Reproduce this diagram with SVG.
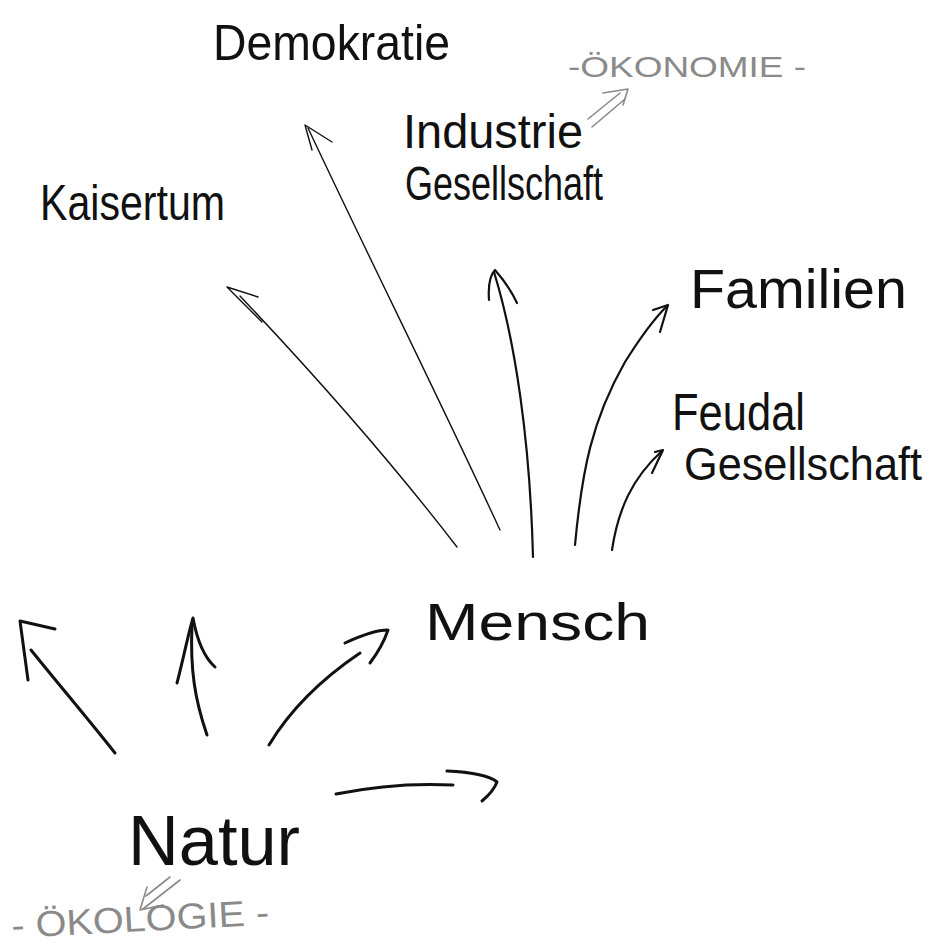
<svg xmlns="http://www.w3.org/2000/svg" width="936" height="950" viewBox="0 0 936 950">
<style>
.t{font-family:"Liberation Sans",Arial,sans-serif;fill:#111}
.g{font-family:"Liberation Sans",Arial,sans-serif;fill:#8a8a8a}
.c{fill:none;stroke:#111;stroke-linecap:round;stroke-linejoin:round}
.thin{stroke-width:1.4}
.mid{stroke-width:2.2}
.bold{stroke-width:3}
.gr{fill:none;stroke:#8a8a8a;stroke-width:1.6;stroke-linecap:round;stroke-linejoin:round}
</style>
<rect width="936" height="950" fill="#fff"/>
<g id="connectors">
  <path class="c thin" d="M457,547 C390,460 310,370 240,296"/>
  <path class="c thin" d="M258,297 L227,287 L262,322"/>
  <path class="c thin" d="M500,530 C440,400 370,260 308,128"/>
  <path class="c thin" d="M332,142 L305,125 L312,150"/>
  <path class="c mid" d="M533,557 C530,440 515,340 494,272"/>
  <path class="c mid" d="M489,300 C488,285 490,275 495,270 C502,278 512,292 517,303"/>
  <path class="c mid" d="M575,545 C582,470 592,420 625,362 C640,338 655,318 667,306"/>
  <path class="c mid" d="M653,310 L668,305 L660,332"/>
  <path class="c mid" d="M612,550 C618,510 632,478 662,451"/>
  <path class="c mid" d="M655,452 L663,450 L652,473"/>
  <path class="c bold" d="M115,753 C85,715 55,680 31,650"/>
  <path class="c bold" d="M28,680 L20,621 L55,629"/>
  <path class="c bold" d="M207,735 C195,700 190,670 192,625"/>
  <path class="c bold" d="M177,683 C183,660 188,635 193,618 C197,640 205,658 215,667"/>
  <path class="c bold" d="M269,745 C290,710 320,680 360,653"/>
  <path class="c bold" d="M345,643 C360,636 375,630 388,630 C383,645 376,655 370,663"/>
  <path class="c bold" d="M336,794 C375,786 415,783 453,785"/>
  <path class="c bold" d="M447,771 C470,772 490,776 497,782 C494,790 488,796 482,801"/>
  <path class="gr" d="M588,119 L620,93 M592,127 L625,99"/>
  <path class="gr" d="M603,93 L628,89 L623,105"/>
  <path class="gr" d="M180,880 L143,909 M170,877 L146,896"/>
  <path class="gr" d="M147,887 L140,910 L163,905"/>
</g>
<g id="n-demokratie"><text class="t" x="213" y="60" font-size="50" textLength="237" lengthAdjust="spacingAndGlyphs">Demokratie</text></g>
<g id="n-kaisertum"><text class="t" x="40" y="220" font-size="50" textLength="185" lengthAdjust="spacingAndGlyphs">Kaisertum</text></g>
<g id="n-industrie"><text class="t" x="403" y="148" font-size="48" textLength="180" lengthAdjust="spacingAndGlyphs">Industrie</text><text class="t" x="405" y="200" font-size="48" textLength="198" lengthAdjust="spacingAndGlyphs">Gesellschaft</text></g>
<g id="n-oekonomie"><text class="g" x="568" y="77" font-size="30" textLength="238" lengthAdjust="spacingAndGlyphs">-ÖKONOMIE -</text></g>
<g id="n-familien"><text class="t" x="690" y="308" font-size="56" textLength="217" lengthAdjust="spacingAndGlyphs">Familien</text></g>
<g id="n-feudal"><text class="t" x="672" y="430" font-size="52" textLength="133" lengthAdjust="spacingAndGlyphs">Feudal</text><text class="t" x="684" y="480" font-size="46" textLength="238" lengthAdjust="spacingAndGlyphs">Gesellschaft</text></g>
<g id="n-mensch"><text class="t" x="425" y="640" font-size="52" textLength="225" lengthAdjust="spacingAndGlyphs">Mensch</text></g>
<g id="n-natur"><text class="t" x="128" y="865" font-size="70" textLength="172" lengthAdjust="spacingAndGlyphs">Natur</text></g>
<g id="n-oekologie"><text class="g" x="12" y="938" font-size="36" textLength="258" lengthAdjust="spacingAndGlyphs" transform="rotate(-3 12 938)">- ÖKOLOGIE -</text></g>
</svg>
